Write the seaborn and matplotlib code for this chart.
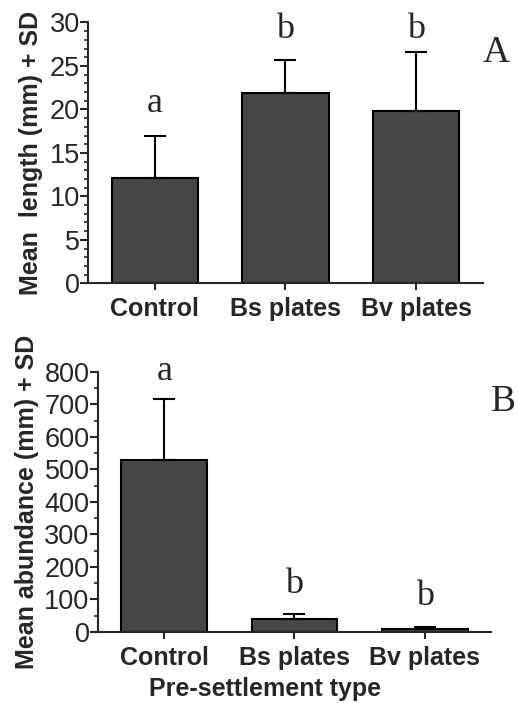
import numpy as np
import pandas as pd
import seaborn as sns
import matplotlib.pyplot as plt
from matplotlib.ticker import MultipleLocator

# data
groups = ['Control', 'Bs plates', 'Bv plates']
length_mean = [12.1, 21.9, 19.8]
length_sd = [4.8, 3.8, 6.8]
length_letters = ['a', 'b', 'b']
abund_mean = [529, 40, 9]
abund_sd = [188, 15, 6]
abund_letters = ['a', 'b', 'b']

sns.set_style('ticks')
plt.rcParams['font.family'] = ['Liberation Sans', 'DejaVu Sans']

fig = plt.figure(figsize=(5.18, 7.03), dpi=100)
ax1 = fig.add_axes([0.170, 0.597, 0.762, 0.371])
ax2 = fig.add_axes([0.189, 0.101, 0.759, 0.370])

def draw_panel(ax, means, sds, letters, letter_y, ymax, major, minor, ylabel, tag):
    df = pd.DataFrame({'group': groups, 'mean': means})
    sns.barplot(data=df, x='group', y='mean', color='#474747', saturation=1,
                edgecolor='black', linewidth=1.5, width=0.66, errorbar=None, ax=ax)
    ax.errorbar(range(len(groups)), means, yerr=[np.zeros(len(sds)), sds],
                fmt='none', ecolor='black', elinewidth=1.5, capsize=8, capthick=1.5, zorder=1)
    for i, (lt, ly) in enumerate(zip(letters, letter_y)):
        ax.text(i, ly, lt, ha='center', va='center', fontsize=26, family='Liberation Serif')
    ax.set_xlim(-0.51, 2.51)
    ax.set_ylim(0, ymax)
    ax.yaxis.set_major_locator(MultipleLocator(major))
    ax.yaxis.set_minor_locator(MultipleLocator(minor))
    ax.tick_params(axis='y', which='major', length=6, width=1.5, labelsize=19.5, pad=0)
    ax.tick_params(axis='y', which='minor', length=3, width=1.2)
    ax.tick_params(axis='x', which='major', length=5, width=1.5, labelsize=18, pad=5)
    for lab in ax.get_xticklabels():
        lab.set_fontweight('bold')
    ax.set_ylabel(ylabel, fontsize=18, fontweight='bold')
    ax.set_xlabel('')
    sns.despine(ax=ax)
    ax.spines['left'].set_linewidth(1.5)
    ax.spines['bottom'].set_linewidth(1.5)
    ax.text(1.0, 0.95, tag, transform=ax.transAxes, fontsize=27,
            family='Liberation Serif', ha='left', va='top', clip_on=False)

draw_panel(ax1, length_mean, length_sd, length_letters, [20.7, 29.2, 29.2],
           30, 5, 1, 'Mean  length (mm) + SD', 'A')
draw_panel(ax2, abund_mean, abund_sd, abund_letters, [800, 145, 108],
           800, 100, 50, 'Mean abundance (mm) + SD', 'B')
ax2.set_xlabel('Pre-settlement type', fontsize=18, fontweight='bold')
ax2.xaxis.set_label_coords(0.425, -0.172)
ax1.yaxis.set_label_coords(-0.115, 0.5)
ax2.yaxis.set_label_coords(-0.15, 0.5)

fig.savefig('out.png', dpi=100)
